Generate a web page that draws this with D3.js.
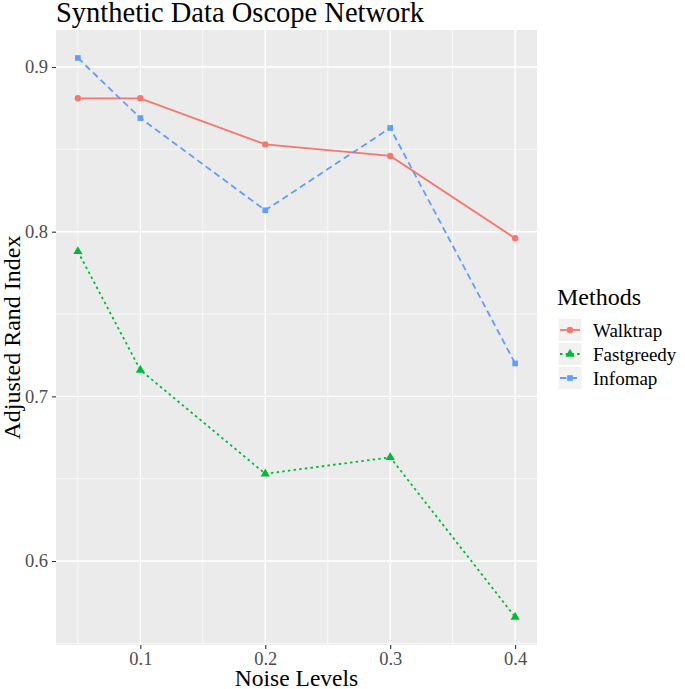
<!DOCTYPE html>
<html><head><meta charset="utf-8">
<script src="https://cdn.jsdelivr.net/npm/d3@7"></script>
<style>body{margin:0;background:#fff;} svg{display:block;}</style>
</head><body>
<script>
const noiseLevels = [0.05, 0.1, 0.2, 0.3, 0.4];
const methods = ["Walktrap", "Fastgreedy", "Infomap"];
const walktrap = [0.881, 0.881, 0.853, 0.846, 0.796];
const fastgreedy = [0.788, 0.716, 0.653, 0.663, 0.566];
const infomap = [0.9055, 0.869, 0.813, 0.863, 0.720];
const xTicks = [0.1, 0.2, 0.3, 0.4];
const yTicks = [0.6, 0.7, 0.8, 0.9];
const xMinor = [0.05, 0.15, 0.25, 0.35];
const yMinor = [0.55, 0.65, 0.75, 0.85];
const colors = ["#F8766D", "#00BA38", "#619CFF"];
const dashes = [null, "2.5,3.2", "6.5,4"];
const shapes = [d3.symbolCircle, d3.symbolTriangle, d3.symbolSquare];
const seriesValues = [walktrap, fastgreedy, infomap];

const W = 685, H = 689;
const font = "'Liberation Serif', 'Times New Roman', serif";
const svg = d3.select("body").append("svg").attr("width", W).attr("height", H)
  .style("font-family", font);

const pL = 56, pR = 537, pT = 30, pB = 645;
const all = seriesValues.flat();
const xr = d3.extent(noiseLevels), yr = d3.extent(all);
const xe = (xr[1]-xr[0])*0.05, ye = (yr[1]-yr[0])*0.05;
const x = d3.scaleLinear().domain([xr[0]-xe, xr[1]+xe]).range([pL, pR]);
const y = d3.scaleLinear().domain([yr[0]-ye, yr[1]+ye]).range([pB, pT]);

svg.append("rect").attr("x", pL).attr("y", pT).attr("width", pR-pL).attr("height", pB-pT).attr("fill", "#EBEBEB");
const g = svg.append("g");
g.selectAll(".xmin").data(xMinor).join("line").attr("x1", d=>x(d)).attr("x2", d=>x(d)).attr("y1", pT).attr("y2", pB).attr("stroke", "#fff").attr("stroke-width", 0.7);
g.selectAll(".ymin").data(yMinor.filter(v=>y(v)<=pB&&y(v)>=pT)).join("line").attr("y1", d=>y(d)).attr("y2", d=>y(d)).attr("x1", pL).attr("x2", pR).attr("stroke", "#fff").attr("stroke-width", 0.7);
g.selectAll(".xmaj").data(xTicks).join("line").attr("x1", d=>x(d)).attr("x2", d=>x(d)).attr("y1", pT).attr("y2", pB).attr("stroke", "#fff").attr("stroke-width", 1.4);
g.selectAll(".ymaj").data(yTicks).join("line").attr("y1", d=>y(d)).attr("y2", d=>y(d)).attr("x1", pL).attr("x2", pR).attr("stroke", "#fff").attr("stroke-width", 1.4);

// axes
const xAxis = svg.append("g").attr("transform", `translate(0,${pB})`)
  .call(d3.axisBottom(x).tickValues(xTicks).tickSize(4).tickPadding(3).tickFormat(d3.format(".1f")));
const yAxis = svg.append("g").attr("transform", `translate(${pL},0)`)
  .call(d3.axisLeft(y).tickValues(yTicks).tickSize(4).tickPadding(4).tickFormat(d3.format(".1f")));
[xAxis, yAxis].forEach(a => {
  a.select(".domain").remove();
  a.selectAll(".tick line").attr("stroke", "#333").attr("stroke-width", 1.1);
  a.selectAll(".tick text").attr("fill", "#4D4D4D").style("font-size", "18.5px").style("font-family", font);
});

// lines
const line = d3.line().x((d,i)=>x(noiseLevels[i])).y(d=>y(d));
methods.forEach((m, k) => {
  svg.append("path").datum(seriesValues[k]).attr("d", line)
    .attr("fill", "none").attr("stroke", colors[k]).attr("stroke-width", 1.8)
    .attr("stroke-dasharray", dashes[k]);
  svg.append("g").selectAll("path").data(seriesValues[k]).join("path")
    .attr("transform", (d,i)=>`translate(${x(noiseLevels[i])},${y(d)})`)
    .attr("d", d3.symbol().type(shapes[k]).size(k===1?36:32))
    .attr("fill", colors[k]);
});

// titles
svg.append("text").attr("x", pL).attr("y", 22).text("Synthetic Data Oscope Network")
  .style("font-size", "28.5px").attr("fill", "#000");
svg.append("text").attr("x", (pL+pR)/2).attr("y", 686).attr("text-anchor", "middle")
  .text("Noise Levels").style("font-size", "23.5px");
svg.append("text").attr("transform", `translate(20,${(pT+pB)/2}) rotate(-90)`).attr("text-anchor", "middle")
  .text("Adjusted Rand Index").style("font-size", "24px");

// legend
const lg = svg.append("g");
lg.append("text").attr("x", 557).attr("y", 305).text("Methods").style("font-size", "24px");
methods.forEach((m, k) => {
  const cy = 330 + k*24;
  lg.append("rect").attr("x", 558).attr("y", cy-11.5).attr("width", 24).attr("height", 23).attr("fill", "#F2F2F2").attr("stroke", "#fff").attr("stroke-width", 1);
  lg.append("line").attr("x1", 560).attr("x2", 580).attr("y1", cy).attr("y2", cy)
    .attr("stroke", colors[k]).attr("stroke-width", 1.8).attr("stroke-dasharray", dashes[k]);
  lg.append("path").attr("transform", `translate(570,${cy})`).attr("d", d3.symbol().type(shapes[k]).size(k===1?36:32)).attr("fill", colors[k]);
  lg.append("text").attr("x", 593).attr("y", cy+6.5).text(m).style("font-size", "19px");
});
</script>
</body></html>
